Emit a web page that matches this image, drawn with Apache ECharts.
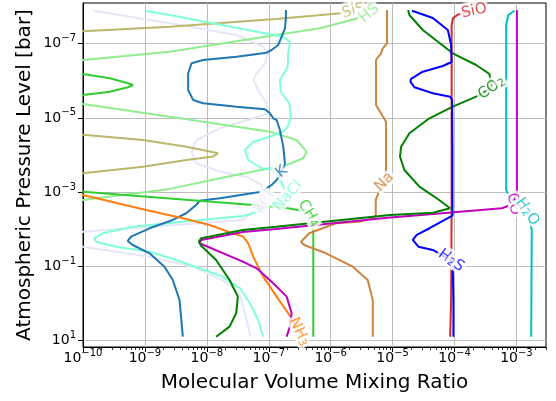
<!DOCTYPE html>
<html><head><meta charset="utf-8">
<script src="https://cdn.jsdelivr.net/npm/echarts@6/dist/echarts.min.js"></script>
<style>html,body{margin:0;padding:0;background:#fff}#c{width:556px;height:401px}</style>
</head><body><div id="c"></div>
<script>
// Axis tick values (log10 units)
const xTicks = [-10, -9, -8, -7, -6, -5, -4, -3];
const yTicks = [-7, -5, -3, -1, 1];
const xMin = -10, xMax = Math.log10(3e-3);
const yMin = Math.log10(8e-9), yMax = Math.log10(15);

// Profiles: log10(volume mixing ratio) and log10(pressure / bar)
const logVMR_KCl = [-9.822,-8.598,-7.520,-7.090,-7.009,-7.062,-7.196,-7.251,-7.171,-7.035,-7.009,-7.251,-7.790,-8.167,-8.247,-8.167,-7.790,-7.358,-7.116,-7.062,-7.418,-10,-10.5,-10.5,-10,-8.926,-8.226,-7.741,-7.471,-7.386,-7.294];
const logP_KCl   = [-7.889,-7.550,-7.235,-6.919,-6.741,-6.472,-6.202,-6.022,-5.752,-5.394,-5.124,-4.989,-4.720,-4.404,-4.089,-3.776,-3.550,-3.415,-3.191,-2.720,-2.248,-1.933,-1.872,-1.653,-1.528,-1.259,-0.989,-0.631,-0.272,0.259,0.898];

const logVMR_SiS = [-5.631,-5.833,-6.884,-8.598,-10,-10.5,-10.5,-10,-9.030,-8.328,-7.817,-7.806,-7.898,-8.328,-9.030,-10,-10.5];
const logP_SiS   = [-7.886,-7.819,-7.666,-7.458,-7.334,-7.28,-4.6,-4.547,-4.404,-4.224,-4.046,-4.008,-3.960,-3.865,-3.685,-3.507,-3.45];

const logVMR_HS = [-5.376,-5.563,-6.173,-6.884,-8.598,-10,-10.5,-10.5,-10,-8.598,-6.981,-6.550,-6.388,-6.443,-6.711,-6.981,-7.790,-8.598,-10,-10.5];
const logP_HS   = [-7.819,-7.685,-7.415,-7.235,-6.784,-6.561,-6.48,-5.497,-5.375,-5.032,-4.628,-4.404,-4.089,-3.911,-3.730,-3.642,-3.372,-3.086,-2.787,-2.680];

const logVMR_NaCl = [-8.998,-8.598,-6.766,-6.658,-6.669,-6.686,-6.695,-6.820,-6.804,-6.669,-6.642,-6.695,-6.766,-6.981,-7.251,-7.386,-7.332,-7.116,-6.954,-6.852,-6.690,-6.917,-7.171,-7.418,-8.388,-9.196,-9.681,-9.816,-9.790,-9.466,-8.926,-8.496,-8.118,-7.741,-7.552,-7.466,-7.305,-7.171,-7.090];
const logP_NaCl   = [-7.889,-7.774,-7.189,-7.054,-6.919,-6.741,-6.380,-6.022,-5.698,-5.394,-5.032,-4.763,-4.628,-4.493,-4.358,-4.135,-3.865,-3.642,-3.615,-3.461,-2.895,-2.679,-2.472,-2.356,-2.202,-2.067,-1.889,-1.755,-1.663,-1.528,-1.393,-1.170,-0.946,-0.720,-0.496,-0.415,-0.003,0.447,0.898];

const logVMR_K = [-6.723,-6.723,-6.739,-6.792,-6.847,-6.954,-7.035,-7.520,-8.060,-8.247,-8.302,-8.302,-8.221,-8.060,-7.520,-7.062,-6.981,-6.928,-6.873,-6.820,-6.766,-6.739,-6.792,-6.873,-6.954,-7.116,-7.790,-8.113,-8.173,-8.335,-8.550,-8.926,-9.224,-9.277,-9.196,-8.926,-8.684,-8.550,-8.441,-8.388];
const logP_K   = [-7.908,-7.685,-7.415,-7.189,-6.965,-6.830,-6.757,-6.650,-6.561,-6.472,-6.202,-5.752,-5.482,-5.394,-5.302,-5.232,-5.124,-4.989,-4.943,-4.674,-4.224,-3.776,-3.542,-3.326,-3.191,-3.011,-2.833,-2.768,-2.652,-2.429,-2.248,-2.024,-1.798,-1.682,-1.574,-1.350,-0.989,-0.631,-0.092,0.898];

const logVMR_CH4 = [-10.5,-10,-9.568,-9.272,-9.192,-9.272,-9.568,-10,-10.5,-10.5,-10,-8.598,-7.251,-6.739,-6.524,-6.351,-6.294,-6.281,-6.281];
const logP_CH4   = [-6.3,-6.183,-6.067,-5.933,-5.887,-5.825,-5.706,-5.617,-5.5,-3.076,-3.011,-2.827,-2.652,-2.580,-2.518,-2.429,-2.194,-1.933,0.898];

const logVMR_NH3 = [-10.5,-10,-8.981,-8.388,-7.956,-7.633,-7.413,-7.332,-7.251,-7.090,-6.873,-6.631,-6.512,-6.480];
const logP_NH3   = [-3.12,-2.922,-2.518,-2.294,-2.113,-1.919,-1.798,-1.620,-1.259,-0.720,-0.181,0.402,0.763,0.898];

const logVMR_Na = [-5.090,-5.090,-5.159,-5.187,-5.268,-5.268,-5.171,-5.106,-5.106,-5.133,-5.230,-5.272,-5.272,-5.311,-5.538,-5.914,-6.346,-6.480,-6.427,-6.076,-5.644,-5.402,-5.321,-5.321];
const logP_Na   = [-7.908,-7.011,-6.876,-6.741,-6.561,-5.348,-5.078,-4.898,-3.596,-3.272,-2.968,-2.787,-2.383,-2.294,-2.202,-2.159,-1.889,-1.663,-1.574,-1.350,-0.989,-0.631,-0.092,0.898];

const logVMR_CO = [-2.993,-2.993,-3.048,-3.235,-4.880,-5.041,-6.884,-7.418,-8.092,-8.118,-7.418,-7.196,-6.928,-6.711,-6.631,-6.658,-6.711];
const logP_CO   = [-7.908,-3.057,-2.679,-2.563,-2.337,-2.315,-2.005,-1.924,-1.709,-1.620,-1.124,-0.946,-0.542,-0.181,0.267,0.628,0.898];

const logVMR_CO2 = [-4.750,-4.729,-4.513,-4.028,-3.651,-3.436,-3.400,-3.651,-4.028,-4.406,-4.729,-4.863,-4.880,-4.810,-4.567,-4.266,-4.071,-4.351,-5.041,-6.884,-7.418,-8.092,-8.129,-8.092,-7.850,-7.633,-7.499,-7.526,-7.633,-7.850];
const logP_CO2   = [-7.908,-7.774,-7.369,-6.741,-6.426,-6.183,-5.806,-5.571,-5.302,-4.989,-4.585,-4.224,-3.954,-3.596,-3.146,-2.806,-2.563,-2.445,-2.383,-2.067,-1.978,-1.755,-1.663,-1.555,-1.170,-0.631,-0.181,0.267,0.628,0.898];

const logVMR_H2O = [-3.031,-3.133,-3.166,-3.166,-3.101,-2.826,-2.753,-2.762];
const logP_H2O   = [-7.889,-7.774,-7.504,-3.057,-2.841,-2.464,-1.978,0.898];

const logVMR_SiO = [-3.683,-3.942,-4.023,-4.047,-4.047,-4.047,-4.055,-4.071];
const logP_SiO   = [-7.881,-7.787,-7.693,-7.504,-5.482,-2.787,-0.092,0.898];

const logVMR_H2S = [-4.686,-4.351,-4.108,-4.055,-4.047,-4.189,-4.513,-4.702,-4.713,-4.648,-4.351,-4.071,-4.039,-4.034,-4.034,-4.071,-4.395,-4.610,-4.674,-4.584,-4.351,-4.055,-4.028,-4.018,-4.018];
const logP_H2S   = [-7.889,-7.693,-7.369,-6.965,-6.507,-6.399,-6.245,-6.049,-5.976,-5.825,-5.663,-5.571,-5.482,-4.135,-2.364,-2.329,-2.032,-1.844,-1.709,-1.528,-1.439,-1.156,-0.900,-0.092,0.898];

// Series config (style + which point carries the inline label); "_n" marks a subscript
const species = [
  {label:'KCl',  x:logVMR_KCl,  p:logP_KCl,  color:'#e6e6fa', at:19, rot:58},
  {label:'SiS',  x:logVMR_SiS,  p:logP_SiS,  color:'#bdb76b', at:0,  rot:14},
  {label:'HS',   x:logVMR_HS,   p:logP_HS,   color:'#90ee90', at:0,  rot:40},
  {label:'NaCl', x:logVMR_NaCl, p:logP_NaCl, color:'#7fffd4', at:20, rot:47},
  {label:'K',    x:logVMR_K,    p:logP_K,    color:'#1f77b4', at:22, rot:40},
  {label:'CH_4', x:logVMR_CH4,  p:logP_CH4,  color:'#32cd32', at:15, rot:-58},
  {label:'NH_3', x:logVMR_NH3,  p:logP_NH3,  color:'#ff7f0e', at:12, rot:-65},
  {label:'Na',   x:logVMR_Na,   p:logP_Na,   color:'#cd853f', at:9,  rot:45},
  {label:'CO',   x:logVMR_CO,   p:logP_CO,   color:'#bf00bf', at:2,  rot:-80},
  {label:'CO_2', x:logVMR_CO2,  p:logP_CO2,  color:'#008000', at:6,  rot:35},
  {label:'H_2O', x:logVMR_H2O,  p:logP_H2O,  color:'#00bfbf', at:5,  rot:-55},
  {label:'SiO',  x:logVMR_SiO,  p:logP_SiO,  color:'#d62728', at:0,  rot:12},
  {label:'H_2S', x:logVMR_H2S,  p:logP_H2S,  color:'#0000ff', at:21, rot:-35}
];

const FONT = 'DejaVu Sans';
function pow10(v){ const n = Math.round(v); return '{b|10}{s|' + String(n).replace('-', '\u2212') + '}'; }
const tickRich = {
  b:{fontFamily:FONT, fontSize:14, lineHeight:14, color:'#000', verticalAlign:'bottom'},
  s:{fontFamily:FONT, fontSize:10, lineHeight:10, color:'#000', verticalAlign:'bottom', padding:[0,0,7,0]}
};
function chemRich(t){ return t.replace(/_(\d)/g, '}{d|$1}{m|').replace(/^/, '{m|') + '}'; }

const minorX = [];
for (let n = -10; n <= -3; n++) for (let k = 2; k <= 9; k++) { const v = n + Math.log10(k); if (v <= xMax) minorX.push(v); }

const lineSeries = species.map(s => ({
  type:'line', name:s.label, data:s.x.map((v,i) => [v, s.p[i]]),
  showSymbol:false, clip:true, silent:true, animation:false,
  lineStyle:{color:s.color, width:2}, itemStyle:{color:s.color},
  emphasis:{disabled:true}, z:2
}));
const labelSeries = {
  type:'scatter', symbolSize:0, silent:true, animation:false, z:10,
  data: species.map(s => ({
    value:[s.x[s.at], s.p[s.at]],
    label:{show:true, position:'inside', formatter:chemRich(s.label), rotate:s.rot,
      rich:{
        m:{fontFamily:FONT, fontSize:15, lineHeight:15, color:s.color, verticalAlign:'bottom', textBorderColor:'#fff', textBorderWidth:6},
        d:{fontFamily:FONT, fontSize:11, lineHeight:11, color:s.color, verticalAlign:'bottom', padding:[5,0,0,0], textBorderColor:'#fff', textBorderWidth:6}
      }}
  }))
};

const chart = echarts.init(document.getElementById('c'), null, {renderer:'canvas'});
chart.setOption({
  animation:false,
  backgroundColor:'#fff',
  grid:{left:83, right:10, top:3, bottom:54, show:true, borderColor:'#000', borderWidth:1, backgroundColor:'transparent', containLabel:false, outerBoundsMode:'none'},
  xAxis:[{
    type:'value', min:xMin, max:xMax, interval:1,
    name:'Molecular Volume Mixing Ratio', nameLocation:'middle', nameGap:26, nameMoveOverlap:false,
    nameTextStyle:{fontFamily:FONT, fontSize:20, color:'#000'},
    axisLine:{show:true, onZero:false, lineStyle:{color:'#000', width:1}},
    axisTick:{show:true, inside:false, length:5, customValues:xTicks, lineStyle:{color:'#000', width:1}},
    axisLabel:{show:true, margin:4, customValues:xTicks, formatter:pow10, rich:tickRich},
    splitLine:{show:true, lineStyle:{color:'#bdbdbd', width:1}}
  },{
    type:'value', min:xMin, max:xMax, position:'bottom', gridIndex:0,
    axisLine:{show:false, onZero:false}, axisLabel:{show:false}, splitLine:{show:false},
    axisTick:{show:true, inside:false, length:3, customValues:minorX, lineStyle:{color:'#000', width:0.8}}
  }],
  yAxis:{
    type:'value', min:yMin, max:yMax, inverse:true,
    name:'Atmospheric Pressure Level [bar]', nameLocation:'middle', nameGap:48, nameMoveOverlap:false,
    nameTextStyle:{fontFamily:FONT, fontSize:20, color:'#000'},
    axisLine:{show:true, onZero:false, lineStyle:{color:'#000', width:1}},
    axisTick:{show:true, inside:false, length:5, customValues:yTicks, lineStyle:{color:'#000', width:1}},
    axisLabel:{show:true, margin:7, customValues:yTicks, formatter:pow10, rich:tickRich},
    splitLine:{show:true, lineStyle:{color:'#bdbdbd', width:1}}
  },
  series: lineSeries.concat([labelSeries])
});
</script></body></html>
